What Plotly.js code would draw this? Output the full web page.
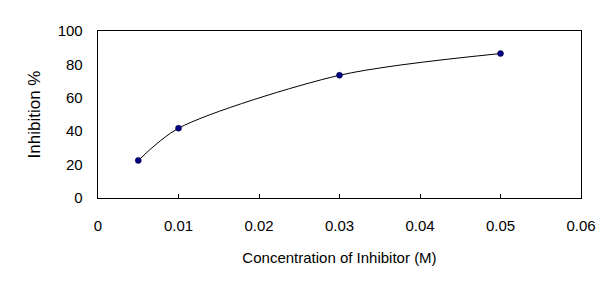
<!DOCTYPE html>
<html><head><meta charset="utf-8">
<script src="https://cdn.plot.ly/plotly-3.0.1.min.js"></script>
<style>html,body{margin:0;padding:0;background:#fff}</style>
</head><body>
<div id="chart" style="width:615px;height:291px"></div>
<script>
var concentration = [0.005, 0.01, 0.03, 0.05];
var inhibition = [22.5, 41.8, 73.5, 86.5];
var xTicks = [0, 0.01, 0.02, 0.03, 0.04, 0.05, 0.06];
var xTickLabels = ['0', '0.01', '0.02', '0.03', '0.04', '0.05', '0.06'];
var yTicks = [0, 20, 40, 60, 80, 100];

var trace = {
  x: concentration, y: inhibition, type: 'scatter', mode: 'lines+markers',
  line: {shape: 'spline', smoothing: 0.8, color: '#000', width: 1},
  marker: {color: '#000080', size: 6, symbol: 'circle', line: {color: '#000033', width: 0.5}},
  cliponaxis: false, hoverinfo: 'none'
};
var font = {family: 'Liberation Sans, Arial, sans-serif', color: '#000'};
var layout = {
  width: 615, height: 291,
  margin: {l: 98, r: 34, t: 31, b: 93},
  paper_bgcolor: '#fff', plot_bgcolor: '#fff',
  showlegend: false,
  font: {family: font.family, size: 13, color: '#000'},
  xaxis: {
    range: [0, 0.06], tickvals: xTicks, ticktext: xTickLabels,
    ticks: 'inside', ticklen: 4, tickcolor: '#000', tickwidth: 1,
    showgrid: false, zeroline: false, showline: true, linecolor: '#000', linewidth: 1.3,
    mirror: true, tickfont: {family: font.family, size: 15, color: '#000'},
    ticklabelstandoff: 14,
    title: {text: 'Concentration of Inhibitor (M)', font: {family: font.family, size: 15, color: '#000'}, standoff: 19}
  },
  yaxis: {
    range: [0, 100], tickvals: yTicks,
    ticks: '', showgrid: false, zeroline: false, showline: true, linecolor: '#000', linewidth: 1.3,
    mirror: true, tickfont: {family: font.family, size: 15, color: '#000'},
    ticklabelstandoff: 11,
    title: {text: 'Inhibition %', font: {family: font.family, size: 17, color: '#000'}, standoff: 12}
  }
};
Plotly.newPlot('chart', [trace], layout, {staticPlot: true, displayModeBar: false});
</script>
</body></html>
